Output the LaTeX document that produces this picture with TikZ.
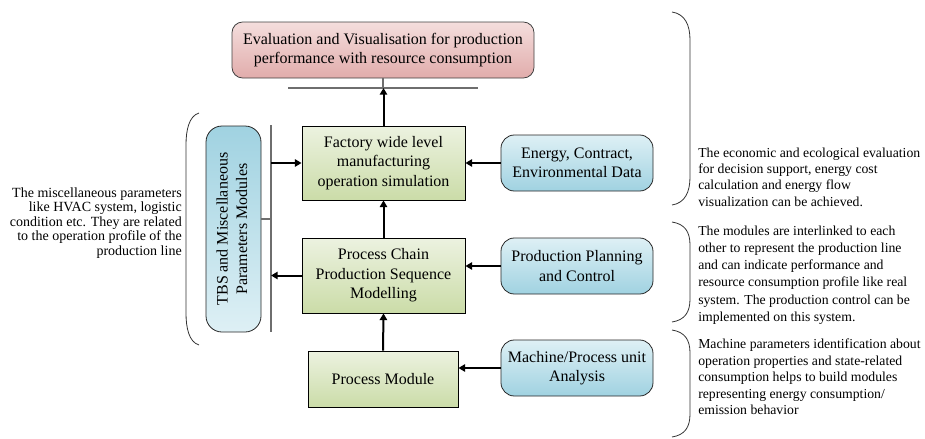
\documentclass[tikz,border=0pt]{standalone}
\usepackage{fontspec}
\setmainfont{Liberation Serif}
\usetikzlibrary{shapes,arrows.meta,positioning,calc}
\definecolor{greentop}{RGB}{236,242,224}
\definecolor{greenbot}{RGB}{203,220,168}
\definecolor{pinktop}{RGB}{244,222,221}
\definecolor{pinkbot}{RGB}{225,172,171}
\definecolor{bluelight}{RGB}{222,240,245}
\definecolor{bluedark}{RGB}{160,210,225}
\definecolor{bargray}{RGB}{110,110,110}
\tikzset{
  boxtext/.style={align=center, font=\fontsize{12}{14.5}\selectfont, inner sep=0pt},
  greenbox/.style={boxtext, rectangle, draw=black, line width=0.6pt, top color=greentop, bottom color=greenbot},
  bluebox/.style={boxtext, rectangle, rounded corners=10pt, draw=black!85, line width=0.6pt, top color=bluelight, bottom color=bluedark, minimum width=114pt, minimum height=42pt},
  pinkbox/.style={boxtext, rectangle, rounded corners=8pt, draw=black!75, line width=0.6pt, top color=pinktop, bottom color=pinkbot},
  flow/.style={-{Triangle[length=5pt,width=5.5pt]}, line width=1.5pt, black},
  bar/.style={line width=1.1pt, bargray},
  note/.style={inner sep=0pt, font=\fontsize{10.3}{12.3}\selectfont},
  bracket/.style={line width=0.6pt, black!80}
}
\begin{document}
\begin{tikzpicture}[x=0.75pt, y=-0.75pt]
    \useasboundingbox (0,0) rectangle (925,439);

    % Main column
    \node[pinkbox, minimum width=226.5pt, minimum height=42pt] (eval) at (383,50) {Evaluation and Visualisation for production\\performance with resource consumption};
    \node[greenbox, minimum width=122.25pt, minimum height=55.5pt] (factory) at (383.5,163) {Factory wide level\\manufacturing\\operation simulation};
    \node[greenbox, minimum width=122.25pt, minimum height=56.25pt] (chain) at (383.5,275.5) {Process Chain\\Production Sequence\\Modelling};
    \node[greenbox, minimum width=112.5pt, minimum height=42pt] (module) at (383,379) {Process Module};

    % Inputs on the right
    \node[bluebox] (energy) at (577,163) {Energy, Contract,\\Environmental Data};
    \node[bluebox] (planning) at (577,266) {Production Planning\\and Control};
    \node[bluebox] (machine) at (577,368) {Machine/Process unit\\Analysis};

    % Side module
    \node[boxtext, rectangle, rounded corners=12pt, draw=black!85, line width=0.6pt, top color=bluedark, bottom color=bluelight, minimum width=41.25pt, minimum height=154.5pt] (tbs) at (233.5,229) {\rotatebox{90}{\begin{tabular}{@{}c@{}}TBS and Miscellaneous\\Parameters Modules\end{tabular}}};

    % Bars
    \coordinate (evalbarL) at (288,88);
    \coordinate (evalbarR) at (478,88);
    \coordinate (sidetop) at (271,125);
    \coordinate (sidebot) at (271,332);
    \draw[bar] (evalbarL) -- (evalbarR);
    \draw[bar] (eval.south) -- (eval.south |- evalbarL);
    \draw[bar] (sidetop) -- (sidebot);
    \draw[bar] (tbs.east |- 0,219) -- (sidetop |- 0,219);

    % Flow arrows
    \draw[flow] (factory.north) -- (factory.north |- evalbarL);
    \draw[flow] (chain.north) -- (factory.south);
    \draw[flow] (module.north) -- (chain.south);
    \draw[flow] (energy.west) -- (energy.west -| factory.east);
    \draw[flow] (planning.west) -- (planning.west -| chain.east);
    \draw[flow] (machine.west) -- (machine.west -| module.east);
    \draw[flow] (sidetop |- factory.west) -- (factory.west);
    \draw[flow] (chain.west) -- (chain.west -| sidetop);

    % Brackets
    \draw[bracket] (199,113) .. controls (189,116) and (186,130) .. (186,145) -- (186,313) .. controls (186,328) and (189,342) .. (199,345);
    \draw[bracket] (672,12) .. controls (685,14) and (690,25) .. (690,40) -- (690,177) .. controls (690,192) and (685,203) .. (672,205);
    \draw[bracket] (672,222) .. controls (685,224) and (690,232) .. (690,245) -- (690,299) .. controls (690,312) and (685,320) .. (672,322);
    \draw[bracket] (672,330) .. controls (685,332) and (690,340) .. (690,353) -- (690,414) .. controls (690,427) and (685,435) .. (672,437);

    % Notes
    \node[note, align=right, anchor=east, font=\fontsize{10.5}{10.8}\selectfont] (miscnote) at (182,223) {The miscellaneous parameters\\like HVAC system, logistic\\condition etc. They are related\\to the operation profile of the\\production line};
    \node[note, align=left, anchor=west] (evalnote) at (698,177) {The economic and ecological evaluation\\for decision support, energy cost\\calculation and energy flow\\visualization can be achieved.};
    \node[note, align=left, anchor=west, font=\fontsize{10.3}{12.9}\selectfont] (chainnote) at (698,275) {The modules are interlinked to each\\other to represent the production line\\and can indicate performance and\\resource consumption profile like real\\system. The production control can be\\implemented on this system.};
    \node[note, align=left, anchor=west] (modulenote) at (698,377) {Machine parameters identification about\\operation properties and state-related\\consumption helps to build modules\\representing energy consumption/\\emission behavior};
\end{tikzpicture}
\end{document}
